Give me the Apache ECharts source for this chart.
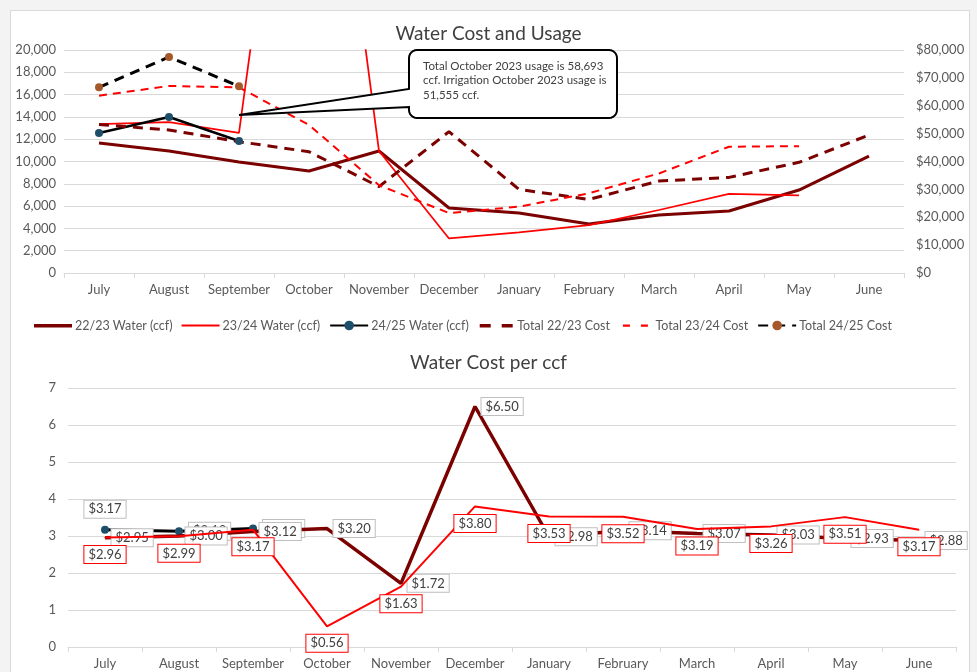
<!DOCTYPE html>
<html>
<head>
<meta charset="utf-8">
<script src="https://cdn.jsdelivr.net/npm/echarts@6/dist/echarts.min.js"></script>
<style>
  body { margin: 0; background: #f3f3f3; }
  #frame { position: absolute; left: 10px; top: 10px; width: 960px; height: 680px; background: #fff; border: 1px solid #d9d9d9; box-sizing: border-box; }
  #chart { position: absolute; left: 0; top: 0; width: 977px; height: 672px; }
</style>
</head>
<body>
<div id="frame"></div>
<div id="chart"></div>
<script>
// month categories (fiscal year July - June)
const months = ['July', 'August', 'September', 'October', 'November', 'December',
  'January', 'February', 'March', 'April', 'May', 'June']

// water usage, ccf (left axis)
const water2223 = [11660, 10940, 9960, 9150, 10940, 5830, 5380, 4400, 5200, 5560, 7440, 10490]
const water2324 = [13360, 13540, 12560, 58693, 10940, 3100, 3650, 4300, 5650, 7090, 6970, null]
const water2425 = [12560, 13990, 11840, null, null, null, null, null, null, null, null, null]

// total cost, $ (right axis)
const cost2223 = [53300, 51300, 47100, 43500, 31000, 50700, 30000, 26400, 33000, 34300, 39700, 49500]
const cost2324 = [63600, 67100, 66600, 53100, 31500, 21500, 23800, 28600, 35700, 45300, 45500, null]
const cost2425 = [66600, 77500, 67000, null, null, null, null, null, null, null, null, null]

// cost per ccf
const rate2223 = [2.95, 3.00, 3.12, 3.20, 1.72, 6.50, 2.98, 3.14, 3.07, 3.03, 2.93, 2.88]
const rate2324 = [2.96, 2.99, 3.17, 0.56, 1.63, 3.80, 3.53, 3.52, 3.19, 3.26, 3.51, 3.17]
const rate2425 = [3.17, 3.13, 3.20, null, null, null, null, null, null, null, null, null]

const calloutText = 'Total October 2023 usage is 58,693\nccf. Irrigation October 2023 usage is\n51,555 ccf.'

const FONT = 'Lato'
const TXT = '#595959'
const GRID = '#d9d9d9'
const MAROON = '#7b0000'
const RED = '#ff0000'

// legend icons: tiny dots at top/bottom keep the bar thin inside the icon box
const PAD = 'M0 0h0.01v0.01h-0.01z M0 12h0.01v0.01h-0.01z '
const solidThick = 'path://' + PAD + 'M0 4.5h40v3.5h-40z'
const solidThin = 'path://' + PAD + 'M0 5h40v2h-40z'
const dashThick = 'path://' + PAD + 'M2 4.5h11v3.5h-11z M24 4.5h11v3.5h-11z'
const dashThin = 'path://' + PAD + 'M4 5h7v2.2h-7z M22 5h7v2.2h-7z'

const chart = echarts.init(document.getElementById('chart'))

function money(v) {
  return '$' + v.toLocaleString('en-US')
}
function rateLabel(p) {
  return '$' + p.value.toFixed(2)
}
const grayLabel = {
  show: true, position: 'right', distance: 6, formatter: rateLabel,
  backgroundColor: '#fff', borderColor: '#bfbfbf', borderWidth: 1,
  padding: [2, 4], color: '#404040', fontSize: 13, fontFamily: FONT
}
const redLabel = Object.assign({}, grayLabel, { position: 'bottom', distance: 8, borderColor: RED })

const catAxis = (gridIndex) => ({
  type: 'category', gridIndex, data: months, boundaryGap: true,
  axisLine: { lineStyle: { color: GRID } },
  axisTick: { show: true, length: 5, lineStyle: { color: GRID } },
  axisLabel: { color: TXT, fontSize: 13, fontFamily: FONT, margin: 10, interval: 0 }
})
const valLabel = { color: TXT, fontSize: 13, fontFamily: FONT }

const option = {
  animation: false,
  backgroundColor: 'transparent',
  textStyle: { fontFamily: FONT },
  title: [
    { text: 'Water Cost and Usage', left: 'center', top: 19,
      textStyle: { fontSize: 19, fontWeight: 'normal', color: '#404040', fontFamily: FONT } },
    { text: 'Water Cost per ccf', left: 'center', top: 348,
      textStyle: { fontSize: 19, fontWeight: 'normal', color: '#404040', fontFamily: FONT } }
  ],
  legend: {
    left: 34, top: 319, padding: 0, itemWidth: 38, itemHeight: 12, itemGap: 9,
    textStyle: { color: TXT, fontSize: 12.5, fontFamily: FONT, padding: [0, 0, 0, -2] },
    data: [
      { name: '22/23 Water (ccf)', icon: solidThick },
      { name: '23/24 Water (ccf)', icon: solidThin },
      '24/25 Water (ccf)',
      { name: 'Total 22/23 Cost', icon: dashThick },
      { name: 'Total 23/24 Cost', icon: dashThin },
      'Total 24/25 Cost'
    ]
  },
  grid: [
    { left: 64, top: 50, width: 840, height: 223 },
    { left: 68, top: 388, width: 888, height: 259 }
  ],
  xAxis: [catAxis(0), catAxis(1)],
  yAxis: [
    { type: 'value', gridIndex: 0, min: 0, max: 20000, interval: 2000,
      axisLabel: Object.assign({ formatter: (v) => v.toLocaleString('en-US') }, valLabel),
      splitLine: { lineStyle: { color: GRID } } },
    { type: 'value', gridIndex: 0, min: 0, max: 80000, interval: 10000, position: 'right',
      axisLabel: Object.assign({ formatter: money, margin: 12 }, valLabel),
      splitLine: { show: false } },
    { type: 'value', gridIndex: 1, min: 0, max: 7, interval: 1,
      axisLabel: Object.assign({ margin: 12 }, valLabel),
      splitLine: { lineStyle: { color: GRID } } }
  ],
  series: [
    { name: '22/23 Water (ccf)', type: 'line', xAxisIndex: 0, yAxisIndex: 0, data: water2223,
      symbol: 'none', color: MAROON, lineStyle: { color: MAROON, width: 3 } },
    { name: '23/24 Water (ccf)', type: 'line', xAxisIndex: 0, yAxisIndex: 0, data: water2324,
      symbol: 'none', color: RED, lineStyle: { color: RED, width: 1.75 } },
    { name: '24/25 Water (ccf)', type: 'line', xAxisIndex: 0, yAxisIndex: 0, data: water2425,
      symbol: 'circle', symbolSize: 8, itemStyle: { color: '#1d4f6b' },
      lineStyle: { color: '#000', width: 2.5 } },
    { name: 'Total 22/23 Cost', type: 'line', xAxisIndex: 0, yAxisIndex: 1, data: cost2223,
      symbol: 'none', color: MAROON, lineStyle: { color: MAROON, width: 3, type: [10, 7] } },
    { name: 'Total 23/24 Cost', type: 'line', xAxisIndex: 0, yAxisIndex: 1, data: cost2324,
      symbol: 'none', color: RED, lineStyle: { color: RED, width: 2, type: [8, 6] } },
    { name: 'Total 24/25 Cost', type: 'line', xAxisIndex: 0, yAxisIndex: 1, data: cost2425,
      symbol: 'circle', symbolSize: 8, itemStyle: { color: '#a5592a' },
      lineStyle: { color: '#000', width: 3, type: [10, 7] } },

    // cost per ccf
    { name: '22/23 per ccf', type: 'line', xAxisIndex: 1, yAxisIndex: 2, data: rate2223,
      symbol: 'circle', symbolSize: 1, itemStyle: { color: MAROON },
      lineStyle: { color: MAROON, width: 3.5 }, label: grayLabel, z: 3 },
    { name: '23/24 per ccf', type: 'line', xAxisIndex: 1, yAxisIndex: 2, data: rate2324,
      symbol: 'circle', symbolSize: 1, itemStyle: { color: RED },
      lineStyle: { color: RED, width: 2 }, label: redLabel, z: 4 },
    { name: '24/25 per ccf', type: 'line', xAxisIndex: 1, yAxisIndex: 2,
      data: rate2425.map((v, i) => i === 0 ? { value: v, label: { position: 'top', distance: 8 } } : v),
      symbol: 'circle', symbolSize: 8, itemStyle: { color: '#1d4f6b' },
      lineStyle: { color: '#000', width: 3 }, label: grayLabel, z: 2 }
  ]
}
chart.setOption(option)

// callout box pointing at the September jump in 23/24 usage
const tip = chart.convertToPixel({ xAxisIndex: 0, yAxisIndex: 0 }, ['September', 14170])
const bx0 = 409, by0 = 50, bx1 = 617, by1 = 118, r = 8
function arc(cx, cy, a0, a1, pts) {
  for (let i = 0; i <= 6; i++) {
    const a = a0 + (a1 - a0) * i / 6
    pts.push([cx + r * Math.cos(a), cy + r * Math.sin(a)])
  }
}
const pts = []
arc(bx1 - r, by0 + r, -Math.PI / 2, 0, pts)
arc(bx1 - r, by1 - r, 0, Math.PI / 2, pts)
arc(bx0 + r, by1 - r, Math.PI / 2, Math.PI, pts)
pts.push([bx0, 107], tip, [bx0, 89])
arc(bx0 + r, by0 + r, Math.PI, Math.PI * 1.5, pts)

chart.setOption({
  graphic: [
    { type: 'polygon', z: 100, shape: { points: pts },
      style: { fill: '#fff', stroke: '#000', lineWidth: 2 } },
    { type: 'text', z: 101, left: 423, top: 59,
      style: { text: calloutText, fill: '#404040', fontSize: 11.5, lineHeight: 14.5, fontFamily: FONT } }
  ]
})
</script>
</body>
</html>
